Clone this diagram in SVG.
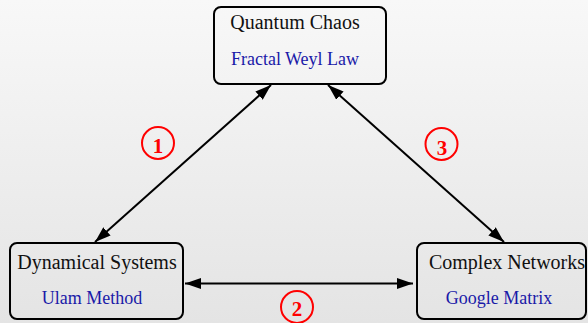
<svg xmlns="http://www.w3.org/2000/svg" width="588" height="323" viewBox="0 0 588 323">
<defs>
<linearGradient id="bg" x1="0" y1="0" x2="0" y2="1">
<stop offset="0" stop-color="#f8f8f8"/>
<stop offset="1" stop-color="#e4e4e4"/>
</linearGradient>
<marker id="ah" viewBox="0 0 16 11" refX="16" refY="5.5" markerWidth="16" markerHeight="11" markerUnits="userSpaceOnUse" orient="auto-start-reverse">
<path d="M0,0 L16,5.5 L0,11 Z" fill="#000"/>
</marker>
<style>
.box{fill:none;stroke:#000;stroke-width:2}
text{font-family:"Liberation Serif","Times New Roman",serif;text-anchor:middle}
.t{font-size:20px;fill:#111}
.s{font-size:18px;fill:#1a1aa8}
.c{fill:none;stroke:#f00;stroke-width:2}
.n{font-size:21px;font-weight:bold;fill:#f00}
.e{stroke:#000;stroke-width:2;fill:none;marker-start:url(#ah);marker-end:url(#ah)}
</style>
</defs>
<rect width="588" height="323" fill="url(#bg)"/>
<g id="connectors">
<line class="e" x1="271" y1="85" x2="95" y2="242"/>
<line class="e" x1="328" y1="85" x2="504" y2="242"/>
<line class="e" x1="185" y1="283.5" x2="413" y2="283.5"/>
</g>
<g id="quantum">
<rect class="box" x="214" y="7" width="172" height="77" rx="7"/>
<text class="t" x="295" y="29">Quantum Chaos</text>
<text class="s" x="295" y="65">Fractal Weyl Law</text>
</g>
<g id="dynamical">
<rect class="box" x="10" y="243" width="173" height="76" rx="7"/>
<text class="t" x="97" y="269">Dynamical Systems</text>
<text class="s" x="92" y="304">Ulam Method</text>
</g>
<g id="complex">
<rect class="box" x="417" y="243" width="169" height="76" rx="7"/>
<text class="t" x="507" y="269">Complex Networks</text>
<text class="s" x="499" y="304">Google Matrix</text>
</g>
<g id="label1">
<circle class="c" cx="158" cy="143" r="16"/>
<text class="n" x="158" y="153">1</text>
</g>
<g id="label3">
<circle class="c" cx="441.5" cy="144" r="16"/>
<text class="n" x="442" y="154.5">3</text>
</g>
<g id="label2">
<circle class="c" cx="297" cy="307" r="16"/>
<text class="n" x="297" y="315.5">2</text>
</g>
</svg>
